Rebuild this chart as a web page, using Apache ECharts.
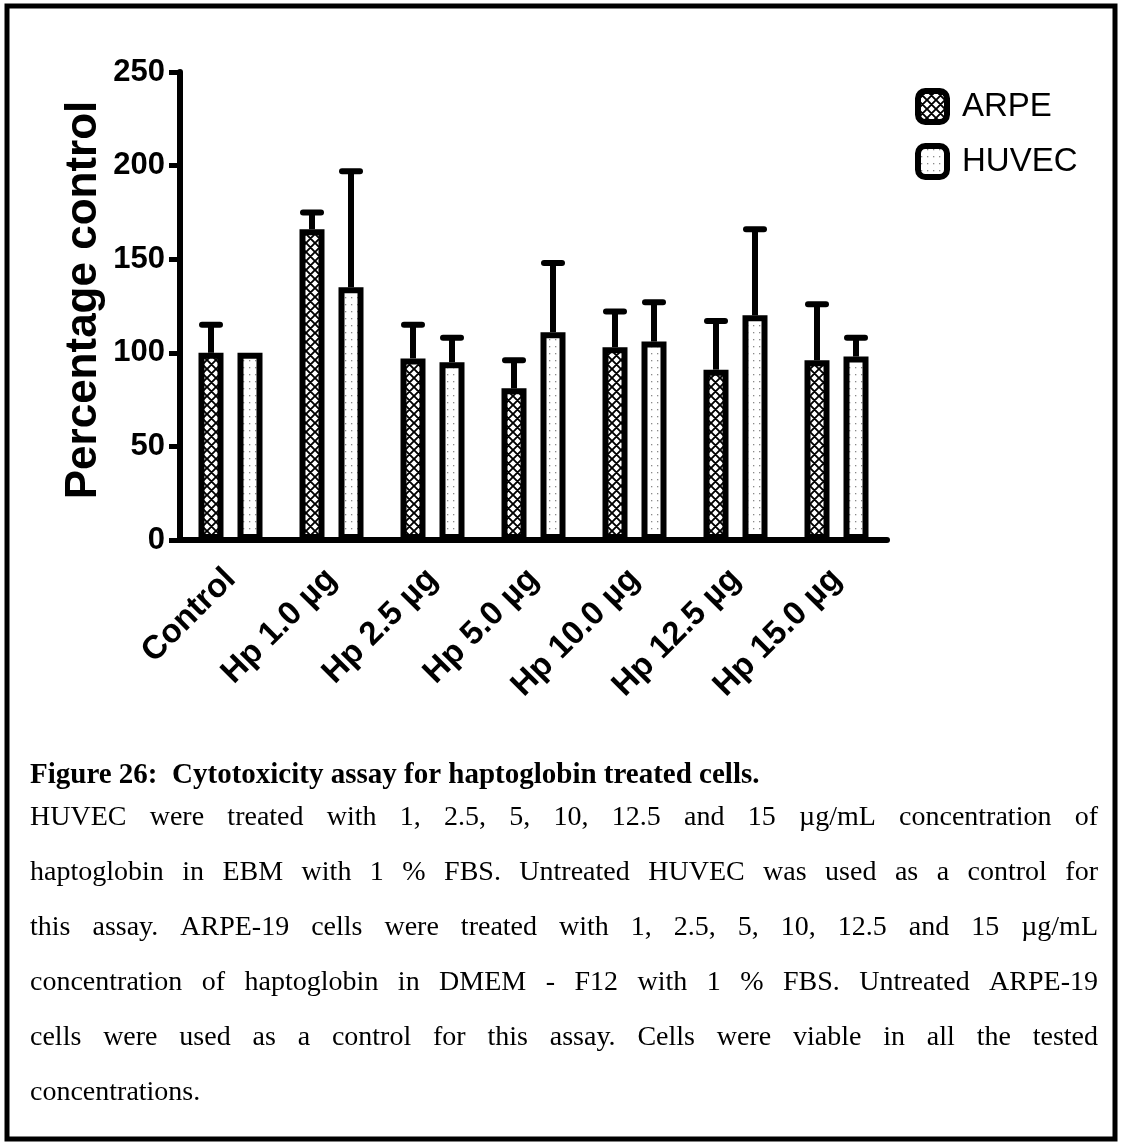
<!DOCTYPE html>
<html>
<head>
<meta charset="utf-8">
<script src="https://cdn.jsdelivr.net/npm/echarts@6/dist/echarts.min.js"></script>
<style>
  html, body { margin: 0; padding: 0; background: #fff; }
  #chart { width: 1121px; height: 1144px; }
</style>
</head>
<body>
<div id="chart"></div>
<script>
// Cell viability (% of untreated control), mean and upper SD per treatment
const categories = ['Control', 'Hp 1.0 µg', 'Hp 2.5 µg', 'Hp 5.0 µg', 'Hp 10.0 µg', 'Hp 12.5 µg', 'Hp 15.0 µg'];
const arpeMean  = [100, 166, 97, 81, 103, 91, 96];
const arpeErr   = [15, 9, 18, 15, 19, 26, 30];
const huvecMean = [100, 135, 95, 111, 106, 120, 98];
const huvecErr  = [0, 62, 13, 37, 21, 46, 10];

const yMin = 0, yMax = 250, yStep = 50;

const captionTitle = 'Figure 26:  Cytotoxicity assay for haptoglobin treated cells.';
const captionLines = [
  'HUVEC were treated with 1, 2.5, 5, 10, 12.5 and 15 µg/mL concentration of',
  'haptoglobin in EBM with 1 % FBS. Untreated HUVEC was used as a control for',
  'this assay. ARPE-19 cells were treated with 1, 2.5, 5, 10, 12.5 and 15 µg/mL',
  'concentration of haptoglobin in DMEM - F12 with 1 % FBS. Untreated ARPE-19',
  'cells were used as a control for this assay. Cells were viable in all the tested',
  'concentrations.'
];

const SANS = 'Arial, "Liberation Sans", sans-serif';
const SERIF = '"Times New Roman", "Liberation Serif", serif';

// Fill patterns: cross-hatch for ARPE, fine dots for HUVEC
function hatchTile() {
  const s = 9;
  const c = document.createElement('canvas');
  c.width = s; c.height = s;
  const g = c.getContext('2d');
  g.fillStyle = '#fff'; g.fillRect(0, 0, s, s);
  g.strokeStyle = '#000'; g.lineWidth = 1.9;
  g.beginPath();
  for (const o of [-s, 0, s]) {
    g.moveTo(o, 0); g.lineTo(o + s, s);
    g.moveTo(o + s, 0); g.lineTo(o, s);
  }
  g.stroke();
  return c;
}
function dotTile() {
  const c = document.createElement('canvas');
  c.width = 6; c.height = 7;
  const g = c.getContext('2d');
  g.fillStyle = '#fff'; g.fillRect(0, 0, 6, 7);
  g.fillStyle = '#8a8a8a'; g.fillRect(3, 3, 1.3, 1.3);
  return c;
}
const hatchFill = { image: hatchTile(), repeat: 'repeat' };
const dotFill = { image: dotTile(), repeat: 'repeat' };

const BAR_W = 25;
const BAR_GAP = 14;
const BAR_SHIFT = (BAR_W + BAR_GAP) / 2;

function errorSeries(name, means, errs, side) {
  return {
    type: 'custom',
    name: name + ' SD',
    z: 3,
    silent: true,
    renderItem: function (params, api) {
      const i = api.value(0), m = api.value(1), e = api.value(2);
      if (!e) return;
      const base = api.coord([i, m]);
      const top = api.coord([i, m + e]);
      const x = base[0] + side * BAR_SHIFT;
      return {
        type: 'group',
        children: [
          { type: 'line', shape: { x1: x, y1: base[1], x2: x, y2: top[1] },
            style: { stroke: '#000', lineWidth: 6 } },
          { type: 'line', shape: { x1: x - 9, y1: top[1], x2: x + 9, y2: top[1] },
            style: { stroke: '#000', lineWidth: 6, lineCap: 'round' } }
        ]
      };
    },
    data: means.map((m, i) => [i, m, errs[i]])
  };
}

// Caption: justified body text, one word at a time
const measureCtx = document.createElement('canvas').getContext('2d');
function captionGraphics() {
  const out = [];
  const left = 30, right = 1098;
  const bodyFont = '28px ' + SERIF;
  out.push({
    type: 'text', x: left, y: 776,
    style: { text: captionTitle, font: 'bold 29px ' + SERIF, fill: '#000', textVerticalAlign: 'middle' }
  });
  const firstY = 818, lineStep = 55;
  measureCtx.font = bodyFont;
  captionLines.forEach((line, li) => {
    const y = firstY + li * lineStep;
    const last = li === captionLines.length - 1;
    if (last) {
      out.push({ type: 'text', x: left, y: y,
                 style: { text: line, font: bodyFont, fill: '#000', textVerticalAlign: 'middle' } });
      return;
    }
    const words = line.split(' ');
    const widths = words.map(w => measureCtx.measureText(w).width);
    const total = widths.reduce((a, b) => a + b, 0);
    const gap = (right - left - total) / (words.length - 1);
    let x = left;
    words.forEach((w, wi) => {
      out.push({ type: 'text', x: x, y: y,
                 style: { text: w, font: bodyFont, fill: '#000', textVerticalAlign: 'middle' } });
      x += widths[wi] + gap;
    });
  });
  return out;
}

const chart = echarts.init(document.getElementById('chart'), null, { renderer: 'canvas' });

chart.setOption({
  backgroundColor: '#fff',
  animation: false,
  grid: { left: 180, right: 234, top: 72, bottom: 604, containLabel: false },
  legend: {
    orient: 'vertical',
    left: 915, top: 88,
    itemWidth: 29, itemHeight: 31, itemGap: 18,
    icon: 'roundRect',
    padding: 0,
    textStyle: { fontFamily: SANS, fontSize: 33, color: '#000', padding: [0, 0, 0, 10] },
    data: [
      { name: 'ARPE', itemStyle: { color: hatchFill, borderColor: '#000', borderWidth: 6 } },
      { name: 'HUVEC', itemStyle: { color: dotFill, borderColor: '#000', borderWidth: 6 } }
    ]
  },
  xAxis: {
    type: 'category',
    data: categories,
    axisLine: { lineStyle: { color: '#000', width: 6 } },
    axisTick: { alignWithLabel: true, length: 12, lineStyle: { color: '#000', width: 5 } },
    axisLabel: {
      rotate: 45, margin: 34, color: '#000',
      fontFamily: SANS, fontWeight: 'bold', fontSize: 33, interval: 0
    },
    splitLine: { show: false }
  },
  yAxis: {
    type: 'value',
    min: yMin, max: yMax, interval: yStep,
    axisLine: { show: true, lineStyle: { color: '#000', width: 6 } },
    axisTick: { show: true, length: 11, lineStyle: { color: '#000', width: 5 } },
    axisLabel: { margin: 15, color: '#000', fontFamily: SANS, fontWeight: 'bold', fontSize: 31 },
    splitLine: { show: false }
  },
  series: [
    {
      name: 'ARPE', type: 'bar', data: arpeMean,
      barWidth: BAR_W, barGap: (BAR_GAP / BAR_W * 100) + '%',
      itemStyle: { color: hatchFill, borderColor: '#000', borderWidth: 6 },
      z: 2
    },
    {
      name: 'HUVEC', type: 'bar', data: huvecMean,
      barWidth: BAR_W,
      itemStyle: { color: dotFill, borderColor: '#000', borderWidth: 6 },
      z: 2
    },
    errorSeries('ARPE', arpeMean, arpeErr, -1),
    errorSeries('HUVEC', huvecMean, huvecErr, 1)
  ],
  graphic: [
    {
      type: 'rect', shape: { x: 7, y: 6, width: 1108, height: 1133 },
      style: { fill: null, stroke: '#000', lineWidth: 5 }, silent: true
    },
    {
      type: 'text', x: 84, y: 300, rotation: Math.PI / 2,
      style: { text: 'Percentage control', font: 'bold 44px ' + SANS, fill: '#000',
               textAlign: 'center', textVerticalAlign: 'middle' }
    }
  ].concat(captionGraphics())
});
</script>
</body>
</html>
